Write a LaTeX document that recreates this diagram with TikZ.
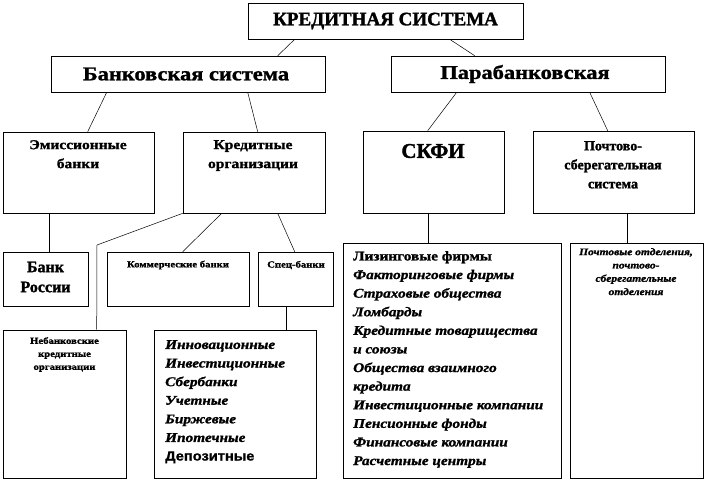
\documentclass[tikz,border=0pt]{standalone}
\usepackage{fontspec}
\setmainfont{Liberation Serif}
\newfontfamily\sansb[FakeStretch=1.1,FakeBold=1.2]{Liberation Sans Bold}
\newfontfamily\hv[FakeStretch=1.15,FakeBold=1.3,ItalicFont={Liberation Serif Bold Italic}]{Liberation Serif Bold}
\newfontfamily\hb[FakeBold=1.6]{Liberation Serif Bold}
\begin{document}
\begin{tikzpicture}[x=1pt,y=-1pt,
  box/.style={draw=black, line width=0.6pt, inner sep=0pt},
  conn/.style={draw=black, line width=0.5pt},
  txt/.style={inner sep=0pt, font=\hv\fontsize{#1}{#1}\selectfont, align=center},
  lst/.style={inner sep=0pt, anchor=north west, align=left,
    font=\hv\itshape\fontsize{13.3}{18.6}\selectfont}]
\useasboundingbox (0,0) rectangle (706,483);
\fill[white] (0,0) rectangle (706,483);
% boxes
\node[box, minimum width=275pt, minimum height=36pt] (top) at (385.5,21) {};
\node[box, minimum width=274pt, minimum height=36pt] (bank) at (188,74) {};
\node[box, minimum width=274pt, minimum height=36pt] (para) at (528,74) {};
\node[box, minimum width=151pt, minimum height=81pt] (emis) at (78.5,172.5) {};
\node[box, minimum width=142pt, minimum height=81pt] (kred) at (254,172.5) {};
\node[box, minimum width=141pt, minimum height=82pt] (skfi) at (433.5,172) {};
\node[box, minimum width=161pt, minimum height=82pt] (post) at (613.5,172) {};
\node[box, minimum width=85pt, minimum height=54pt] (bross) at (45.5,279) {};
\node[box, minimum width=142pt, minimum height=54pt] (komm) at (178,279) {};
\node[box, minimum width=75pt, minimum height=54pt] (spec) at (295.5,279) {};
\node[box, minimum width=123pt, minimum height=148pt] (neb) at (64.5,404) {};
\node[box, minimum width=162pt, minimum height=148pt] (slist) at (235,404) {};
\node[box, minimum width=218pt, minimum height=235pt] (sklist) at (452,360.5) {};
\node[box, minimum width=133pt, minimum height=235pt] (plist) at (636.5,360.5) {};
% connectors
\draw[conn] ([xshift=47pt]top.south west) -- ([xshift=227pt]bank.north west);
\draw[conn] ([xshift=202pt]top.south west) -- ([xshift=84pt]para.north west);
\draw[conn] ([xshift=56pt]bank.south west) -- ([xshift=85pt]emis.north west);
\draw[conn] ([xshift=197pt]bank.south west) -- ([xshift=75pt]kred.north west);
\draw[conn] ([xshift=66pt]para.south west) -- ([xshift=65pt]skfi.north west);
\draw[conn] ([xshift=199pt]para.south west) -- ([xshift=75pt]post.north west);
\draw[conn] ([xshift=47pt]emis.south west) -- ([xshift=47pt]bross.north west);
\coordinate (bend) at (97,245);
\draw[conn] (kred.south west) -- (bend) -- ([xshift=94pt]neb.north west);
\draw[conn] ([xshift=39pt]kred.south west) -- ([xshift=76pt]komm.north west);
\draw[conn] ([xshift=95pt]kred.south west) -- ([xshift=37pt]spec.north west);
\draw[conn] ([xshift=29pt]spec.south west) -- ([xshift=133pt]slist.north west);
\draw[conn] ([xshift=66pt]skfi.south west) -- ([xshift=86pt]sklist.north west);
\draw[conn] ([xshift=95pt]post.south west) -- ([xshift=58pt]plist.north west);
% texts
\node[txt=19, font=\hb\fontsize{19}{19}\selectfont] (ttop) at (385.5,21) {КРЕДИТНАЯ СИСТЕМА};
\node[txt=19.5] (tbank) at (186,74) {Банковская система};
\node[txt=19.5] (tpara) at (525,74) {Парабанковская};
\node[txt=14, anchor=north, font=\hv\fontsize{13.5}{19}\selectfont] (temis) at (78,140) {Эмиссионные\\банки};
\node[txt=14, anchor=north, font=\hv\fontsize{13.5}{19}\selectfont] (tkred) at (253,140) {Кредитные\\организации};
\node[txt=21, font=\hb\fontsize{21}{21}\selectfont] (tskfi) at (433,151) {СКФИ};
\node[txt=14, anchor=north, font=\hb\fontsize{14}{19}\selectfont] (tpost) at (613,141) {Почтово-\\сберегательная\\система};
\node[txt=16, font=\hb\fontsize{16}{20}\selectfont] (tbross) at (45.5,277) {Банк\\России};
\node[txt=9.3] (tkomm) at (178,265) {Коммерческие банки};
\node[txt=9.3] (tspec) at (296,265) {Спец-банки};
\node[txt=9.3, anchor=north, font=\hv\fontsize{9.3}{13}\selectfont] (tneb) at (64.5,337) {Небанковские\\кредитные\\организации};
\node[lst] (tslist) at (165,340) {Инновационные\\Инвестиционные\\Сбербанки\\Учетные\\Биржевые\\Ипотечные\\{\sansb\upshape Депозитные}};
\node[lst] (tsklist) at (353,251) {{\upshape Лизинговые фирмы}\\Факторинговые фирмы\\Страховые общества\\Ломбарды\\Кредитные товарищества\\и союзы\\Общества взаимного\\кредита\\Инвестиционные компании\\Пенсионные фонды\\Финансовые компании\\Расчетные центры};
\node[txt=10, anchor=north, font=\hv\itshape\fontsize{10}{13.3}\selectfont] (tplist) at (636,248) {Почтовые отделения,\\почтово-\\сберегательные\\отделения};
\end{tikzpicture}
\end{document}
